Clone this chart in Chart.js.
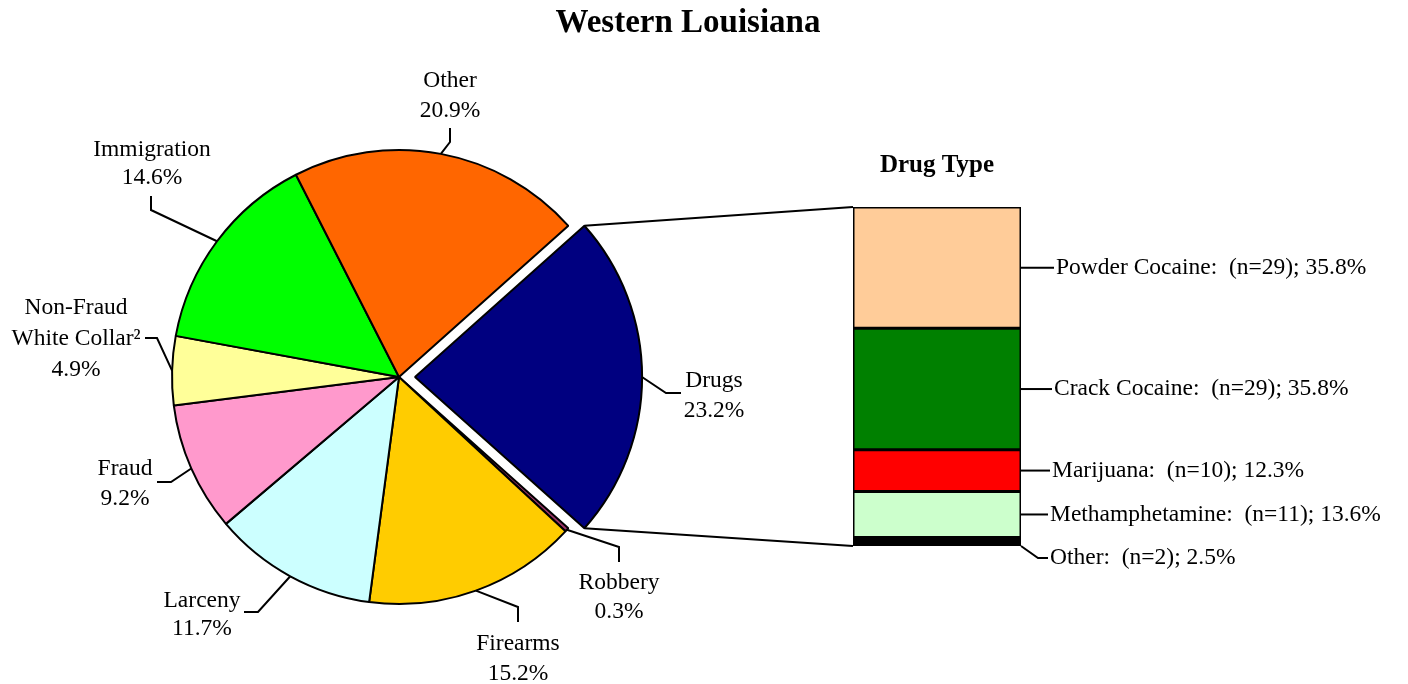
<!DOCTYPE html>
<html>
<head>
<meta charset="utf-8">
<script src="https://cdn.jsdelivr.net/npm/chart.js@4.4.1/dist/chart.umd.min.js"></script>
<style>
body { margin: 0; background: #fff; }
#wrap { position: relative; width: 1408px; height: 684px; }
#wrap canvas { position: absolute; left: 0; top: 0; }
</style>
</head>
<body>
<div id="wrap">
  <canvas id="pieChart" width="1408" height="684"></canvas>
  <canvas id="barChart" width="1408" height="684"></canvas>
</div>
<script>
const offenseLabels = [['Drugs'], ['Robbery'], ['Firearms'], ['Larceny'], ['Fraud'], ['Non-Fraud', 'White Collar²'], ['Immigration'], ['Other']];
const offenseShares = [23.2, 0.3, 15.2, 11.7, 9.2, 4.9, 14.6, 20.9];
const offenseColors = ['#000080', '#993366', '#FFCC00', '#CCFFFF', '#FF99CC', '#FFFF99', '#00FF00', '#FF6600'];

const drugLabels = ['Powder Cocaine', 'Crack Cocaine', 'Marijuana', 'Methamphetamine', 'Other'];
const drugCounts = [29, 29, 10, 11, 2];
const drugShares = [35.8, 35.8, 12.3, 13.6, 2.5];
const drugColors = ['#FFCC99', '#008000', '#FF0000', '#CCFFCC', '#000000'];

const FONT = '"Liberation Serif", "Times New Roman", serif';

// label spots round the pie: text centre, first baseline, line step, leader elbow and end
const pieLabelPlaces = [
  {x: 714, y: 387, lh: 30, elbow: [666, 393], end: [681, 393]},
  {x: 619, y: 589, lh: 29, elbow: [619, 547], end: [619, 562]},
  {x: 518, y: 650, lh: 30, elbow: [518, 607], end: [518, 622]},
  {x: 202, y: 607, lh: 28, elbow: [258, 612], end: [244, 612]},
  {x: 125, y: 475, lh: 30, elbow: [171, 482], end: [157, 482]},
  {x: 76,  y: 314, lh: 31, elbow: [157, 338], end: [145, 338]},
  {x: 152, y: 156, lh: 28, elbow: [151, 210], end: [151, 196]},
  {x: 450, y: 87,  lh: 30, elbow: [450, 142], end: [450, 128]}
];

// gap from bar edge to text, and a drop for the thin last one
const drugLabelPlaces = [
  {gap: 35, drop: 0}, {gap: 33, drop: 0}, {gap: 31, drop: 0}, {gap: 29, drop: 0}, {gap: 29, drop: 12}
];

function arcGeom(arc) {
  const p = arc.getProps(['x', 'y', 'startAngle', 'endAngle', 'outerRadius'], true);
  const mid = (p.startAngle + p.endAngle) / 2;
  const shift = (arc.options.offset || 0) / 4;
  p.cx = p.x + Math.cos(mid) * shift;
  p.cy = p.y + Math.sin(mid) * shift;
  p.mid = mid;
  return p;
}

const pieLabelsPlugin = {
  id: 'pieLabels',
  afterDatasetsDraw(chart) {
    const ctx = chart.ctx;
    const arcs = chart.getDatasetMeta(0).data;
    ctx.save();
    ctx.strokeStyle = '#000';
    ctx.lineWidth = 2;
    ctx.fillStyle = '#000';
    ctx.textAlign = 'center';
    ctx.textBaseline = 'alphabetic';

    ctx.font = 'bold 33px ' + FONT;
    ctx.fillText('Western Louisiana', 688, 32);

    ctx.font = '23.5px ' + FONT;
    arcs.forEach((arc, i) => {
      const g = arcGeom(arc);
      const sx = g.cx + Math.cos(g.mid) * g.outerRadius;
      const sy = g.cy + Math.sin(g.mid) * g.outerRadius;
      const place = pieLabelPlaces[i];
      ctx.beginPath();
      ctx.moveTo(sx, sy);
      ctx.lineTo(place.elbow[0], place.elbow[1]);
      ctx.lineTo(place.end[0], place.end[1]);
      ctx.stroke();
      const lines = offenseLabels[i].concat(offenseShares[i].toFixed(1) + '%');
      lines.forEach((t, k) => ctx.fillText(t, place.x, place.y + k * place.lh));
    });
    ctx.restore();
  }
};

const pieChart = new Chart(document.getElementById('pieChart'), {
  type: 'pie',
  data: {
    labels: offenseLabels.map(l => l.join(' ')),
    datasets: [{
      data: offenseShares,
      backgroundColor: offenseColors,
      borderColor: '#000',
      borderWidth: 2,
      offset: offenseShares.map((v, i) => i === 0 ? 64 : 0)
    }]
  },
  options: {
    responsive: false,
    animation: false,
    rotation: 90 - offenseShares[0] * 1.8,
    radius: 227,
    layout: { padding: { left: 172, right: 782, top: 150, bottom: 80 } },
    plugins: { legend: { display: false }, tooltip: { enabled: false } }
  },
  plugins: [pieLabelsPlugin]
});

const drugLabelsPlugin = {
  id: 'drugLabels',
  afterDatasetsDraw(chart) {
    const ctx = chart.ctx;
    const n = drugLabels.length;
    ctx.save();
    ctx.strokeStyle = '#000';
    ctx.lineWidth = 2;
    ctx.fillStyle = '#000';

    // lines from the pulled-out slice to the bar
    const top = chart.getDatasetMeta(n - 1).data[0].getProps(['x', 'y', 'base', 'width'], true);
    const bottom = chart.getDatasetMeta(0).data[0].getProps(['x', 'y', 'base', 'width'], true);
    const g = arcGeom(pieChart.getDatasetMeta(0).data[0]);
    const left = top.x - top.width / 2;
    ctx.beginPath();
    ctx.moveTo(g.cx + Math.cos(g.startAngle) * g.outerRadius, g.cy + Math.sin(g.startAngle) * g.outerRadius);
    ctx.lineTo(left, Math.min(top.y, top.base));
    ctx.moveTo(g.cx + Math.cos(g.endAngle) * g.outerRadius, g.cy + Math.sin(g.endAngle) * g.outerRadius);
    ctx.lineTo(left, Math.max(bottom.y, bottom.base));
    ctx.stroke();

    ctx.font = 'bold 25px ' + FONT;
    ctx.textAlign = 'center';
    ctx.textBaseline = 'alphabetic';
    ctx.fillText('Drug Type', top.x, 172);

    ctx.font = '23.5px ' + FONT;
    ctx.textAlign = 'left';
    ctx.textBaseline = 'middle';
    drugLabels.forEach((name, i) => {
      const el = chart.getDatasetMeta(n - 1 - i).data[0].getProps(['x', 'y', 'base', 'width'], true);
      const right = el.x + el.width / 2;
      const place = drugLabelPlaces[i];
      let y0 = (el.y + el.base) / 2;
      ctx.beginPath();
      if (place.drop) {
        y0 = Math.max(el.y, el.base);
        ctx.moveTo(right, y0);
        ctx.lineTo(right + place.gap - 12, y0 + place.drop);
        ctx.lineTo(right + place.gap - 2, y0 + place.drop);
      } else {
        ctx.moveTo(right, y0);
        ctx.lineTo(right + place.gap - 2, y0);
      }
      ctx.stroke();
      const txt = name + ':  (n=' + drugCounts[i] + '); ' + drugShares[i].toFixed(1) + '%';
      ctx.fillText(txt, right + place.gap, y0 + place.drop);
    });
    ctx.restore();
  }
};

const stackOrder = drugLabels.map((_, i) => i).reverse(); // bottom of the stack first

const barChart = new Chart(document.getElementById('barChart'), {
  type: 'bar',
  data: {
    labels: ['Drugs'],
    datasets: stackOrder.map(i => ({
      label: drugLabels[i],
      data: [drugShares[i]],
      backgroundColor: drugColors[i],
      borderColor: '#000',
      borderWidth: 2,
      borderSkipped: false,
      inflateAmount: 0.5,
      barPercentage: 1,
      categoryPercentage: 1
    }))
  },
  options: {
    responsive: false,
    animation: false,
    layout: { padding: { left: 853, right: 387, top: 207, bottom: 138 } },
    scales: {
      x: { stacked: true, display: false },
      y: { stacked: true, display: false, min: 0, max: 100 }
    },
    plugins: { legend: { display: false }, tooltip: { enabled: false } }
  },
  plugins: [drugLabelsPlugin]
});
</script>
</body>
</html>
